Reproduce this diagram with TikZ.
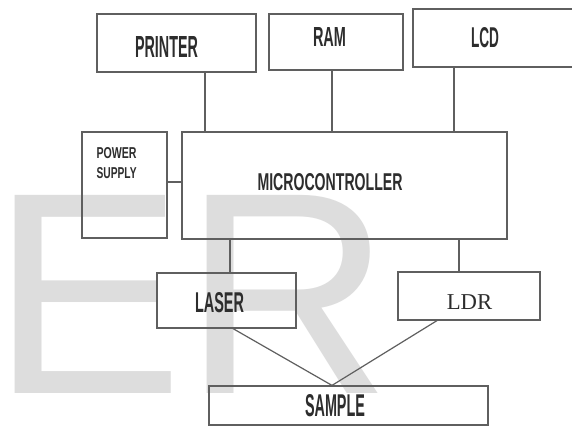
\documentclass[tikz,border=0pt]{standalone}
\usepackage{fontspec}
\setmainfont{Liberation Sans}
\newfontfamily\seriffont{Liberation Serif}
\usepackage{graphicx}
\newcommand{\cond}[3]{\resizebox{#1pt}{#2pt}{\bfseries #3}}
\definecolor{edge}{RGB}{95,95,95}
\definecolor{txt}{RGB}{45,45,45}
\definecolor{wm}{RGB}{221,221,221}
\begin{document}
\begin{tikzpicture}[x=1pt,y=-1pt,
  box/.style={draw=edge, line width=1.2pt, rectangle, inner sep=0pt},
  conn/.style={draw=edge, line width=1.2pt},
  lab/.style={text=txt, inner sep=0pt}]
\useasboundingbox (0,0) rectangle (572,427);
\clip (0,0) rectangle (572,427);
\fill[white] (0,0) rectangle (572,427);
% watermark
\node[anchor=base west, inner sep=0pt, text=wm, font=\fontsize{288}{288}\selectfont] (wmark) at (-9,393) {ER};
% boxes
\node[box, minimum width=159pt, minimum height=58pt,
  label={[lab, xshift=-10pt, yshift=-4.5pt]center:\cond{63}{21}{PRINTER}}] (printer) at (176.5,43) {};
\node[box, minimum width=134pt, minimum height=56pt,
  label={[lab, xshift=-6.5pt, yshift=4.5pt]center:\cond{33}{19}{RAM}}] (ram) at (336,42) {};
\node[box, minimum width=187pt, minimum height=58pt,
  label={[lab, xshift=-21.5pt, yshift=0pt]center:\cond{28}{20}{LCD}}] (lcd) at (506.5,38) {};
\node[box, minimum width=325pt, minimum height=107pt,
  label={[lab, xshift=-14.5pt, yshift=3.5pt]center:\cond{145}{17}{MICROCONTROLLER}}] (micro) at (344.5,185.5) {};
\node[box, minimum width=85pt, minimum height=106pt,
  label={[lab, anchor=north west, align=left, font=\fontsize{14}{20}\selectfont, xshift=15pt, yshift=-16pt]north west:\cond{40}{11}{POWER}\\\cond{40}{11}{SUPPLY}}] (power) at (124.5,185) {};
\node[box, minimum width=139pt, minimum height=55pt,
  label={[lab, xshift=-7pt, yshift=-2.5pt]center:\cond{49}{20}{LASER}}] (laser) at (226.5,300.5) {};
\node[box, minimum width=142pt, minimum height=48pt,
  label={[lab, xshift=0.5pt, yshift=-6.5pt, font=\seriffont\fontsize{22.7}{24}\selectfont]center:LDR}] (ldr) at (469,296) {};
\node[box, minimum width=279pt, minimum height=39pt,
  label={[lab, xshift=-13.5pt, yshift=-0.5pt]center:\cond{60}{22}{SAMPLE}}] (sample) at (348.5,405.5) {};
% connectors
\draw[conn] ([xshift=28.5pt]printer.south) -- ([xshift=28.5pt]printer.south |- micro.north);
\draw[conn] ([xshift=-4pt]ram.south) -- ([xshift=-4pt]ram.south |- micro.north);
\draw[conn] ([xshift=-52.5pt]lcd.south) -- ([xshift=-52.5pt]lcd.south |- micro.north);
\draw[conn] ([yshift=3pt]power.east) -- ([yshift=3pt]power.east -| micro.west);
\draw[conn] ([xshift=3.5pt]laser.north) -- ([xshift=3.5pt]laser.north |- micro.south);
\draw[conn] ([xshift=-10pt]ldr.north) -- ([xshift=-10pt]ldr.north |- micro.south);
\draw[conn] ([xshift=6.5pt]laser.south) -- ([xshift=-16.5pt]sample.north);
\draw[conn] ([xshift=-32pt]ldr.south) -- ([xshift=-16.5pt]sample.north);
\end{tikzpicture}
\end{document}
